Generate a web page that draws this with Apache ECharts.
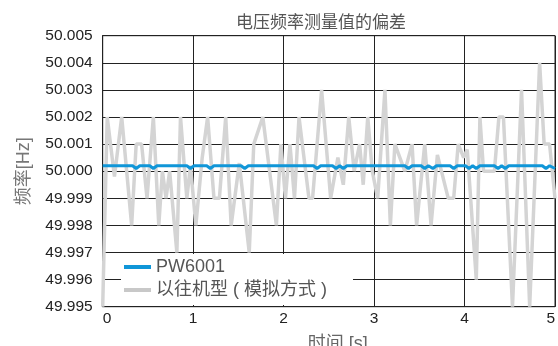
<!DOCTYPE html>
<html>
<head>
<meta charset="utf-8">
<script src="https://cdn.jsdelivr.net/npm/echarts@6/dist/echarts.min.js"></script>
<style>
  html, body { margin: 0; padding: 0; background: #fff; }
  #chart { width: 558px; height: 346px; }
</style>
</head>
<body>
<div id="chart"></div>
<script>
const titleText = '电压频率测量值的偏差'
const seriesNames = ['PW6001', '以往机型 ( 模拟方式 )']
const xName = '时间 [s]'
const yName = '频率[Hz]'

// old analog model
const grayTimes = [0.00, 0.05, 0.13, 0.21, 0.32, 0.37, 0.43, 0.49, 0.56, 0.62, 0.66, 0.70, 0.74, 0.82, 0.86, 0.93, 0.97, 1.03, 1.10, 1.16, 1.23, 1.29, 1.36, 1.42, 1.51, 1.62, 1.67, 1.77, 1.92, 1.97, 2.02, 2.07, 2.12, 2.17, 2.28, 2.32, 2.42, 2.52, 2.60, 2.66, 2.72, 2.78, 2.84, 2.88, 2.93, 2.98, 3.04, 3.12, 3.18, 3.23, 3.34, 3.42, 3.47, 3.56, 3.63, 3.70, 3.82, 3.88, 3.93, 3.99, 4.03, 4.13, 4.17, 4.21, 4.33, 4.38, 4.43, 4.53, 4.63, 4.72, 4.83, 4.88, 4.94, 5.00]
const grayValues = [49.995, 50.002, 49.9998, 50.002, 49.998, 50.001, 50.001, 49.999, 50.002, 49.998, 50.000, 49.999, 50.000, 49.997, 50.002, 49.999, 50.0002, 49.998, 50.0005, 50.002, 49.999, 49.999, 50.002, 49.998, 50.0003, 49.997, 50.001, 50.002, 49.998, 50.001, 49.999, 50.001, 49.999, 50.002, 49.999, 49.999, 50.003, 49.999, 50.0005, 49.9995, 50.002, 50.000, 50.001, 49.9995, 50.002, 50.000, 49.999, 50.003, 49.998, 50.001, 50.000, 50.001, 49.998, 50.001, 49.998, 50.0006, 49.999, 49.999, 50.001, 50.0005, 50.0008, 49.996, 50.002, 50.000, 50.000, 50.002, 50.002, 49.995, 50.003, 49.995, 50.004, 50.001, 50.001, 49.999]

// PW6001
const blueTimes = [0, 0.33, 0.37, 0.41, 0.52, 0.56, 0.60, 0.93, 0.97, 1.01, 1.15, 1.19, 1.23, 1.53, 1.57, 1.61, 2.33, 2.37, 2.41, 2.54, 2.58, 2.62, 2.66, 2.70, 3.34, 3.38, 3.42, 3.52, 3.56, 3.60, 3.65, 3.69, 3.84, 3.88, 3.92, 4.01, 4.05, 4.09, 4.13, 4.17, 4.33, 4.37, 4.41, 4.45, 4.49, 4.86, 4.90, 4.94, 5.00]
const blueValues = [50.0002, 50.0002, 50.0001, 50.0002, 50.0002, 50.0001, 50.0002, 50.0002, 50.0001, 50.0002, 50.0002, 50.0001, 50.0002, 50.0002, 50.0001, 50.0002, 50.0002, 50.0001, 50.0002, 50.0002, 50.0001, 50.0002, 50.0001, 50.0002, 50.0002, 50.0001, 50.0002, 50.0002, 50.0001, 50.0002, 50.0001, 50.0002, 50.0002, 50.0001, 50.0002, 50.0002, 50.0001, 50.0002, 50.0001, 50.0002, 50.0002, 50.0001, 50.0002, 50.0001, 50.0002, 50.0002, 50.0001, 50.0002, 50.0001]

const xTicks = [0, 1, 2, 3, 4, 5]
const yTicks = [49.995, 49.996, 49.997, 49.998, 49.999, 50.000, 50.001, 50.002, 50.003, 50.004, 50.005]

const font = '"Liberation Sans", "Noto Sans CJK SC", sans-serif'
const chart = echarts.init(document.getElementById('chart'), null, { renderer: 'canvas' })

const option = {
	animation: false,
	textStyle: { fontFamily: font },
	title: {
		text: titleText,
		left: 231,
		top: 10,
		textStyle: { fontSize: 17, fontWeight: 'normal', color: '#555', fontFamily: font },
	},
	grid: {
		left: 102.7,
		right: 3,
		top: 35.7,
		bottom: 39.3,
		outerBoundsMode: 'none',
		show: true,
		borderColor: '#222',
		borderWidth: 1,
	},
	legend: {
		orient: 'vertical',
		left: 121,
		top: 254,
		padding: [4, 26, 6, 3],
		backgroundColor: '#fff',
		itemWidth: 27,
		itemHeight: 4,
		itemGap: 5,
		icon: 'rect',
		data: seriesNames,
		textStyle: { fontSize: 18, color: '#555', fontFamily: font },
	},
	xAxis: {
		type: 'value',
		min: xTicks[0],
		max: xTicks[xTicks.length - 1],
		interval: 1,
		name: xName,
		nameLocation: 'middle',
		nameGap: 28,
		nameTextStyle: { fontSize: 18, color: '#666', padding: [0, 0, 0, 18] },
		axisLine: { show: true, lineStyle: { color: '#222', width: 1 } },
		axisTick: { show: false },
		axisLabel: { fontSize: 15.5, color: '#222', margin: 4, alignMinLabel: 'left', alignMaxLabel: 'right' },
		splitLine: { show: true, lineStyle: { color: '#222', width: 1 } },
	},
	yAxis: {
		type: 'value',
		min: yTicks[0],
		max: yTicks[yTicks.length - 1],
		interval: 0.001,
		name: yName,
		nameLocation: 'middle',
		nameGap: 70,
		nameTextStyle: { fontSize: 18, color: '#777' },
		axisLine: { show: true, lineStyle: { color: '#222', width: 1 } },
		axisTick: { show: false },
		axisLabel: {
			fontSize: 15.5,
			color: '#222',
			margin: 10,
			formatter: v => v.toFixed(3),
		},
		splitLine: { show: true, lineStyle: { color: '#222', width: 1 } },
	},
	series: [
		{
			name: seriesNames[1],
			type: 'line',
			data: grayTimes.map((t, i) => [t, grayValues[i]]),
			showSymbol: false,
			lineStyle: { color: '#d4d4d4', width: 3.5 },
			itemStyle: { color: '#c8c8c8' },
		},
		{
			name: seriesNames[0],
			type: 'line',
			data: blueTimes.map((t, i) => [t, blueValues[i]]),
			showSymbol: false,
			lineStyle: { color: '#1096d8', width: 3 },
			itemStyle: { color: '#1096d8' },
		},
	],
}

chart.setOption(option)
</script>
</body>
</html>
